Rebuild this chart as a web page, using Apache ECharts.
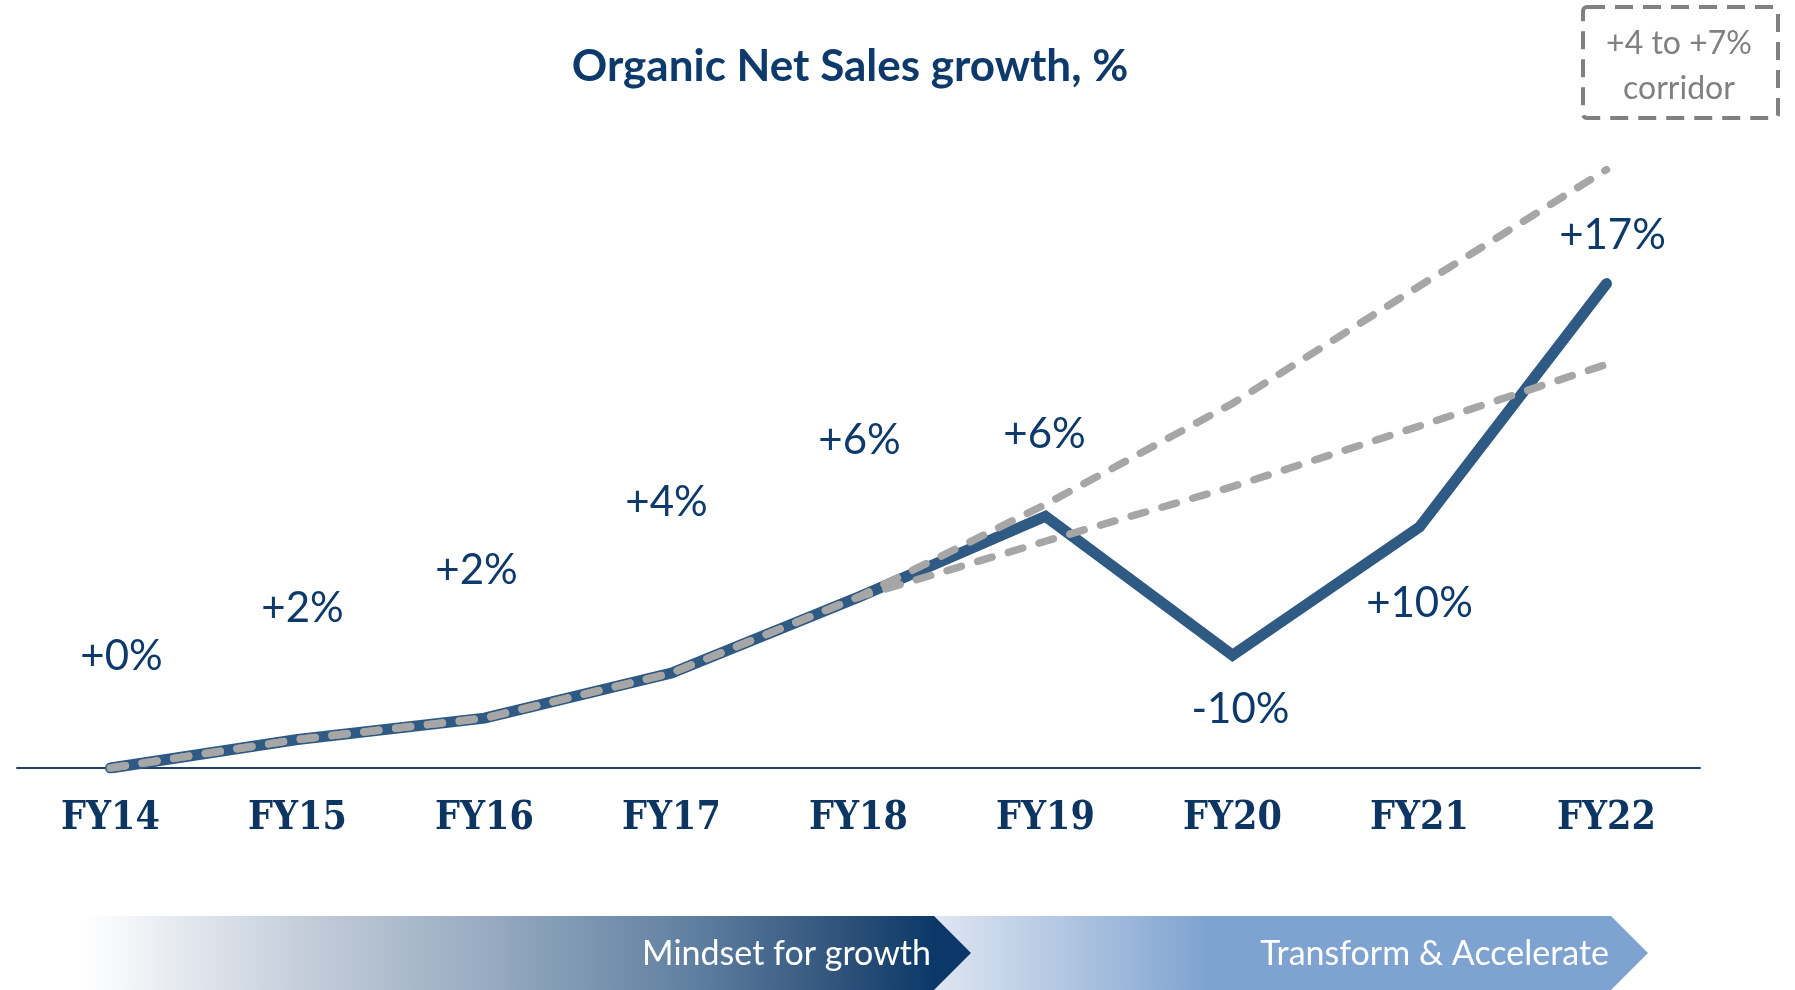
<!DOCTYPE html>
<html>
<head>
<meta charset="utf-8">
<title>Organic Net Sales growth</title>
<script src="https://cdn.jsdelivr.net/npm/echarts@6/dist/echarts.min.js"></script>
<style>
    html, body {margin: 0; padding: 0; background: #fff;}
    #chart {width: 1795px; height: 990px;}
</style>
</head>
<body>
<div id="chart"></div>
<script>
// fiscal years
const years = ['FY14', 'FY15', 'FY16', 'FY17', 'FY18', 'FY19', 'FY20', 'FY21', 'FY22'];
// cumulative index (FY14 = 100)
const actual = [100, 102.4, 104.2, 108.0, 114.4, 121.2, 109.5, 120.3, 140.8];
// corridor, +4% and +7% per year from FY18
const corridorLow = [100, 102.4, 104.2, 108.0, 114.4, 119.1, 123.7, 128.8, 134.0];
const corridorHigh = [100, 102.4, 104.2, 108.0, 114.4, 122.2, 130.7, 140.6, 150.4];
// yearly growth labels
const growth = ['+0%', '+2%', '+2%', '+4%', '+6%', '+6%', '-10%', '+10%', '+17%'];

// where each growth label sits relative to its point
const labelOffsets = [[11, -112], [5, -131], [-8, -148], [-5, -171], [1, -157], [-1, -82], [8, 54], [0, 76], [6, -48]];

const navy = '#0d3a6b';
const lineBlue = '#2f5a84';
const grey = '#a6a6a6';

const chart = echarts.init(document.getElementById('chart'));

const corridorStyle = {
    color: grey,
    width: 7.5,
    type: [15, 17],
    cap: 'round'
};

let option = {
    animation: false,
    backgroundColor: '#fff',
    grid: {left: 17, right: 95, top: 115, bottom: 222},
    xAxis: {
        type: 'category',
        data: years,
        boundaryGap: true,
        axisLine: {lineStyle: {color: '#1f3f6e', width: 2}},
        axisTick: {show: false},
        axisLabel: {
            margin: 31,
            color: '#0d3561',
            fontFamily: "'DejaVu Serif Condensed', 'DejaVu Serif'",
            fontWeight: 'bold',
            fontSize: 39
        }
    },
    yAxis: {
        type: 'value',
        min: 100,
        max: 155,
        show: false
    },
    series: [{
        name: 'actual',
        type: 'line',
        data: actual.map((v, i) => ({
            value: v,
            label: {formatter: growth[i], offset: labelOffsets[i]}
        })),
        symbol: 'circle',
        symbolSize: 1,
        itemStyle: {color: lineBlue},
        lineStyle: {color: lineBlue, width: 11, cap: 'round', join: 'miter'},
        label: {
            show: true,
            position: 'inside',
            color: navy,
            fontFamily: 'Lato',
            fontSize: 42
        },
        z: 2
    }, {
        name: '+4%',
        type: 'line',
        data: corridorLow,
        symbol: 'none',
        lineStyle: corridorStyle,
        z: 3
    }, {
        name: '+7%',
        type: 'line',
        data: corridorHigh,
        symbol: 'none',
        lineStyle: corridorStyle,
        z: 3
    }],
    graphic: [{
        type: 'text',
        style: {
            text: 'Organic Net Sales growth, %',
            x: 850, y: 67,
            align: 'center', verticalAlign: 'middle',
            fill: navy,
            font: 'bold 44px Lato'
        }
    }, {
        // corridor legend box
        type: 'rect',
        shape: {x: 1583, y: 7, width: 195, height: 111, r: 4},
        style: {fill: 'none', stroke: '#808080', lineWidth: 4, lineDash: [18, 10]}
    }, {
        type: 'text',
        style: {
            text: '+4 to +7%\ncorridor',
            x: 1679, y: 66,
            align: 'center', verticalAlign: 'middle',
            lineHeight: 45,
            fill: '#808080',
            font: '32px Lato'
        }
    }, {
        // right banner
        type: 'polygon',
        z: 1,
        shape: {points: [[934, 916], [1611, 916], [1648, 953], [1611, 990], [934, 990]]},
        style: {
            fill: new echarts.graphic.LinearGradient(0, 0, 1, 0, [
                {offset: 0, color: '#dfe7f2'},
                {offset: 0.38, color: '#7fa3d0'},
                {offset: 1, color: '#7fa3d0'}
            ])
        }
    }, {
        // left banner
        type: 'polygon',
        z: 2,
        shape: {points: [[83, 916], [934, 916], [971, 953], [934, 990], [83, 990]]},
        style: {
            fill: new echarts.graphic.LinearGradient(0, 0, 1, 0, [
                {offset: 0, color: '#ffffff'},
                {offset: 0.24, color: '#c5cfdb'},
                {offset: 0.47, color: '#94a8bf'},
                {offset: 0.69, color: '#5f7fa0'},
                {offset: 0.86, color: '#2d5179'},
                {offset: 0.96, color: '#0b3868'},
                {offset: 1, color: '#0b3868'}
            ])
        }
    }, {
        type: 'text',
        z: 3,
        style: {
            text: 'Mindset for growth',
            x: 931, y: 954,
            align: 'right', verticalAlign: 'middle',
            fill: '#fff',
            font: '34px Lato'
        }
    }, {
        type: 'text',
        z: 3,
        style: {
            text: 'Transform & Accelerate',
            x: 1609, y: 954,
            align: 'right', verticalAlign: 'middle',
            fill: '#fff',
            font: '34px Lato'
        }
    }]
};

chart.setOption(option);
</script>
</body>
</html>
